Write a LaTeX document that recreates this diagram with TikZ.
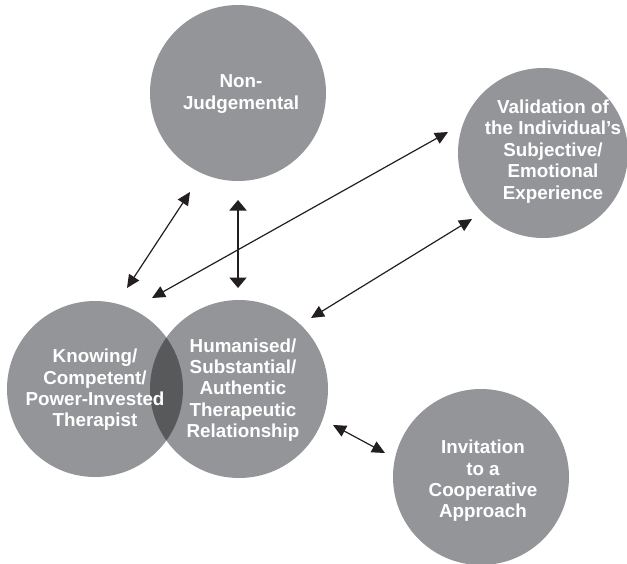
\documentclass[tikz,border=0pt]{standalone}
\usepackage{fontspec}
\setmainfont{Liberation Sans}
\usetikzlibrary{arrows.meta}
\definecolor{disc}{HTML}{939598}
\definecolor{lens}{HTML}{58595B}
\definecolor{ink}{HTML}{231F20}
\begin{document}
\begin{tikzpicture}[x=1pt,y=-1pt,
  disk/.style={circle,fill=disc,draw=none,inner sep=0pt},
  lbl/.style={text=white,font=\bfseries\fontsize{18.8}{21.4}\selectfont,align=center,inner sep=0pt},
  link/.style={draw=ink,line width=1.2pt,{Triangle[length=13pt,width=12pt]}-{Triangle[length=13pt,width=12pt]}},
  boldlink/.style={draw=ink,line width=2pt,{Triangle[length=10.5pt,width=17pt]}-{Triangle[length=10.5pt,width=17pt]}}]
\useasboundingbox (0,0) rectangle (627,563);
\clip (0,0) rectangle (627,563);

% discs
\node[disk,minimum size=176pt] (nj) at (238,93) {};
\node[disk,minimum size=170pt] (va) at (543,153) {};
\node[disk,minimum size=176pt] (kn) at (95,389) {};
\node[disk,minimum size=178pt] (hu) at (239,389) {};
\node[disk,minimum size=176pt] (in) at (481,477) {};

% overlap of the two lower-left discs
\begin{scope}
  \clip (kn.center) circle[radius=88pt];
  \fill[lens] (hu.center) circle[radius=89pt];
\end{scope}

% labels
\node[lbl] (tnj) at (241,94) {Non-\\Judgemental};
\node[lbl] (tva) at (553,151.5) {Validation of\\the Individual’s\\Subjective/\\Emotional\\Experience};
\node[lbl] (tkn) at (95,390) {Knowing/\\Competent/\\Power-Invested\\Therapist};
\node[lbl] (thu) at (243,390) {Humanised/\\Substantial/\\Authentic\\Therapeutic\\Relationship};
\node[lbl] (tin) at (483,481) {Invitation\\to a\\Cooperative\\Approach};

% arrow ends
\coordinate (a1) at (127,288);  \coordinate (a2) at (190,192);
\coordinate (b1) at (238,200);  \coordinate (b2) at (238,288);
\coordinate (c1) at (152,298);  \coordinate (c2) at (448,132);
\coordinate (d1) at (311,318);  \coordinate (d2) at (472,219);
\coordinate (e1) at (333,425);  \coordinate (e2) at (385,453);

% connectors
\draw[link] (a1) -- (a2);
\draw[boldlink] (b1) -- (b2);
\draw[link] (c1) -- (c2);
\draw[link] (d1) -- (d2);
\draw[link] (e1) -- (e2);
\end{tikzpicture}
\end{document}
